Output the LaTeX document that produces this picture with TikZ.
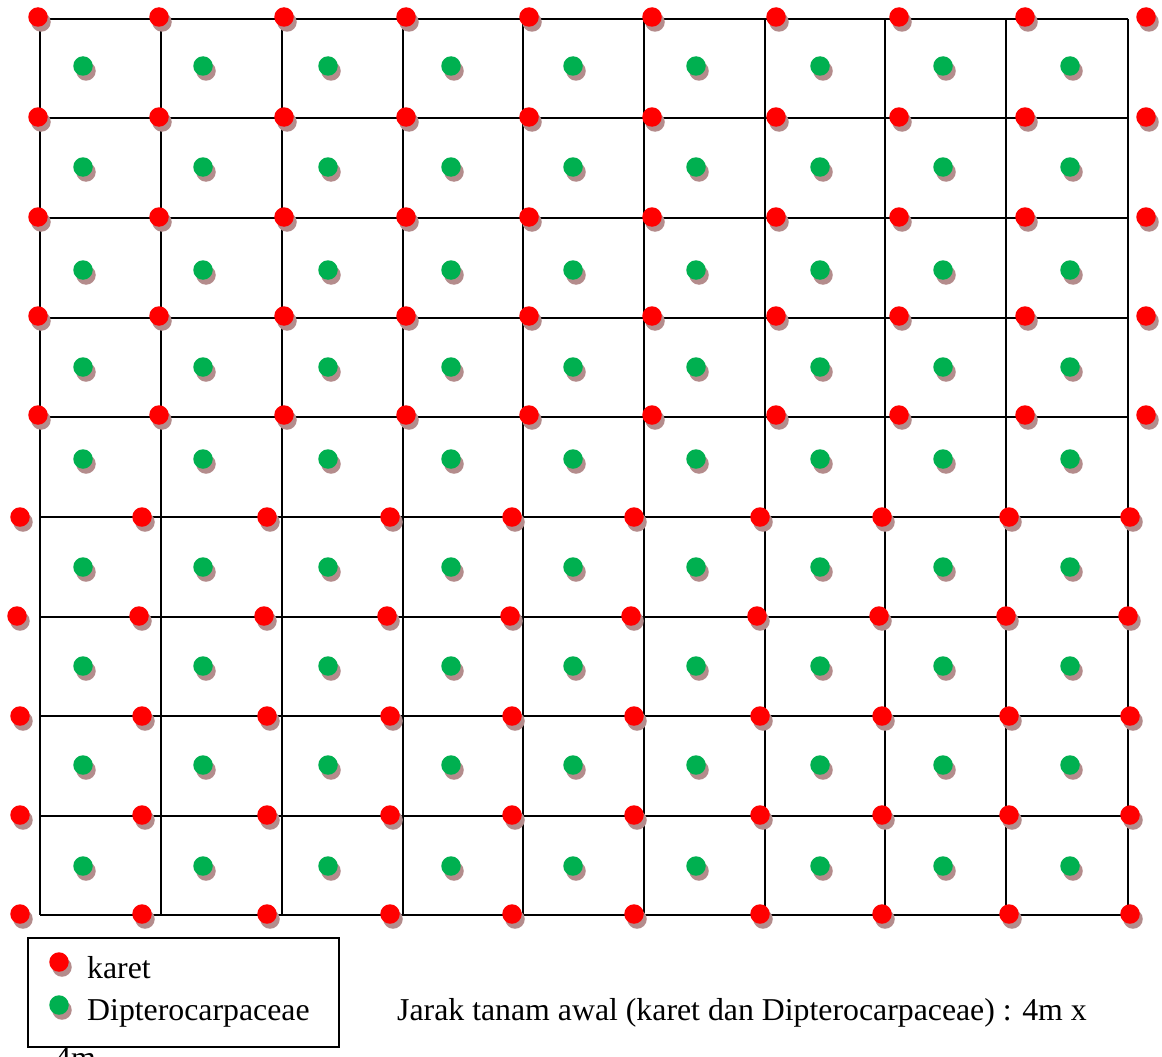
\documentclass[tikz,border=0pt]{standalone}
\usepackage{fontspec}
\setmainfont{Liberation Serif}
\definecolor{karetred}{RGB}{255,0,0}
\definecolor{diptgreen}{RGB}{0,176,80}
\definecolor{shadowc}{RGB}{180,140,140}
\begin{document}
\begin{tikzpicture}[x=1pt,y=-1pt,
  gridline/.style={line width=2pt,black},
  dotbase/.style={circle,inner sep=0pt,minimum size=19.5pt,draw=none},
  shadowdot/.style={dotbase,fill=shadowc},
  karetdot/.style={dotbase,fill=karetred},
  diptdot/.style={dotbase,fill=diptgreen},
  lbl/.style={inner sep=0pt,font=\fontsize{31.8}{38}\selectfont}
]
\useasboundingbox (0,0) rectangle (1162,1057);
\clip (0,0) rectangle (1162,1057);
\fill[white] (0,0) rectangle (1162,1057);
% grid
\foreach \yy in {19,118,218,318,417,517,617,716,816,915}
  \draw[gridline] (40,\yy) -- (1128,\yy);
\foreach \xx in {40,161,282,403,523,644,765,885,1006,1128}
  \draw[gridline] (\xx,19) -- (\xx,915);
% red dots, upper rows
\foreach \yy [count=\r] in {17,117,217,316,415}
  \foreach \xx [count=\c] in {38,159,284,406,529,652,776,899,1025,1146} {
    \node[shadowdot] at (\xx+3,\yy+5) {};
    \node[karetdot] (k-\r-\c) at (\xx,\yy) {};
  }
% red dots, lower rows
\foreach \yy/\r in {517/6,716/8,815/9,914/10}
  \foreach \xx [count=\c] in {20,142,267,390,512,634,760,882,1009,1130} {
    \node[shadowdot] at (\xx+3,\yy+5) {};
    \node[karetdot] (k-\r-\c) at (\xx,\yy) {};
  }
\foreach \xx [count=\c] in {17,139,264,387,510,631,757,879,1006,1128} {
    \node[shadowdot] at (\xx+3,616+5) {};
    \node[karetdot] (k-7-\c) at (\xx,616) {};
  }
% green dots
\foreach \yy [count=\r] in {66,167,270,367,459,567,666,765,866}
  \foreach \xx [count=\c] in {83,203,328,451,573,696,820,943,1070} {
    \node[shadowdot] at (\xx+3,\yy+5) {};
    \node[diptdot] (d-\r-\c) at (\xx,\yy) {};
  }
% caption text
\node[lbl,anchor=base west] (jarak) at (397,1020) {Jarak tanam awal (karet dan Dipterocarpaceae) : 4m x};
\node[lbl,anchor=base west] (fourm) at (55,1068) {4m};
% legend
\draw[line width=2pt,fill=white] (28,938) rectangle (339,1047);
\node[shadowdot] at (62,967) {};
\node[karetdot] (lk) at (59,962) {};
\node[shadowdot] at (62,1010) {};
\node[diptdot] (ld) at (59,1005) {};
\node[lbl,anchor=base west] (lkt) at (87,978) {karet};
\node[lbl,anchor=base west] (ldt) at (87,1020) {Dipterocarpaceae};
\end{tikzpicture}
\end{document}
